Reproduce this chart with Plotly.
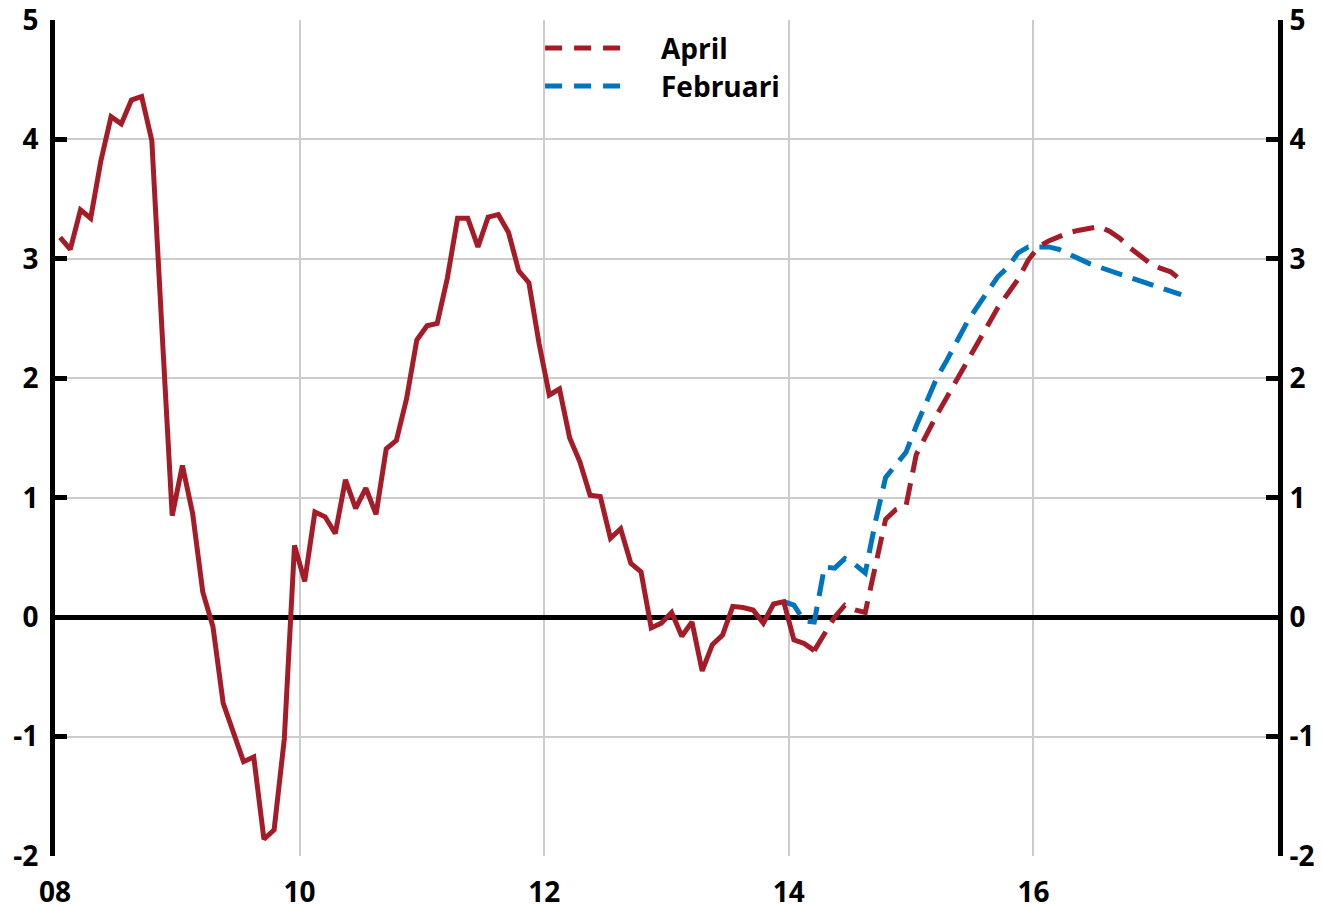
import plotly.graph_objects as go

# ---- data (monthly, starting Jan 2008) ----
start_year = 2008
actual = [3.18, 3.08, 3.41, 3.34, 3.82, 4.19, 4.13, 4.33, 4.36, 3.99, 2.40, 0.85,
          1.27, 0.87, 0.21, -0.08, -0.72, -0.95, -1.21, -1.17, -1.86, -1.78, -1.02, 0.60,
          0.30, 0.88, 0.84, 0.70, 1.15, 0.91, 1.08, 0.86, 1.41, 1.48, 1.83, 2.32,
          2.44, 2.46, 2.84, 3.34, 3.34, 3.10, 3.35, 3.37, 3.22, 2.90, 2.80, 2.29,
          1.86, 1.91, 1.50, 1.30, 1.02, 1.01, 0.66, 0.74, 0.45, 0.38, -0.09, -0.05,
          0.04, -0.16, -0.04, -0.45, -0.23, -0.15, 0.09, 0.08, 0.06, -0.05, 0.11, 0.13,
          -0.19, -0.22, -0.28]

april_start = 74  # month index of first April point
april = [-0.28, -0.13, 0.00, 0.10, 0.06, 0.04, 0.45, 0.82, 0.90, 0.93,
         1.36, 1.53, 1.69, 1.84, 1.99, 2.13, 2.29, 2.44, 2.59, 2.71, 2.83, 2.99,
         3.10, 3.15, 3.19, 3.22, 3.24, 3.26, 3.27, 3.23, 3.17, 3.09, 3.02, 2.96,
         2.92, 2.89, 2.82]

feb_start = 71
februari = [0.13, 0.10, -0.03, -0.04, 0.42, 0.41, 0.49, 0.44, 0.37, 0.80,
            1.17, 1.27, 1.38, 1.60, 1.81, 2.00, 2.15, 2.32, 2.47, 2.60, 2.73, 2.85,
            2.93, 3.05, 3.10, 3.10, 3.10, 3.08, 3.04, 2.99, 2.96, 2.93, 2.90, 2.87,
            2.84, 2.81, 2.78, 2.76, 2.73, 2.70]

x_tickvals = [2008, 2010, 2012, 2014, 2016]
x_ticktext = ["08", "10", "12", "14", "16"]
y_tickvals = [-2, -1, 0, 1, 2, 3, 4, 5]
y_ticktext = ["-2", "-1", "0", "1", "2", "3", "4", "5"]
legend_names = ["April", "Februari"]

def months(start, n):
    return [start_year + (start + i + 0.5) / 12 for i in range(n)]

RED = "#A51C28"
BLUE = "#0074BD"
FONT = "Open Sans"
DASH = "22px,11px"

fig = go.Figure()
fig.add_trace(go.Scatter(x=months(feb_start, len(februari)), y=februari, mode="lines",
                         name=legend_names[1], showlegend=False,
                         line=dict(color=BLUE, width=5, dash=DASH)))
fig.add_trace(go.Scatter(x=months(april_start, len(april)), y=april, mode="lines",
                         name=legend_names[0], showlegend=False,
                         line=dict(color=RED, width=5, dash=DASH)))
fig.add_trace(go.Scatter(x=months(0, len(actual)), y=actual, mode="lines",
                         showlegend=False, line=dict(color=RED, width=5)))
# invisible trace for right axis
fig.add_trace(go.Scatter(x=[2008], y=[0], yaxis="y2", mode="lines", showlegend=False,
                         line=dict(width=0), hoverinfo="skip"))

# manual legend (lines + text)
for name, color, yp in [(legend_names[0], RED, 0.9665), (legend_names[1], BLUE, 0.9211)]:
    fig.add_shape(type="line", xref="paper", yref="paper", x0=0.4007, x1=0.4661, y0=yp, y1=yp,
                  line=dict(color=color, width=5, dash="17px,12px"))
    fig.add_annotation(xref="paper", yref="paper", x=0.4939, y=yp, text=name, showarrow=False,
                       xanchor="left", yanchor="middle",
                       font=dict(family=FONT, size=28, color="black", weight="bold"))

axis_font = dict(family=FONT, size=28, color="black", weight="bold")

fig.update_layout(
    width=1322, height=909,
    margin=dict(l=55, r=44, t=20, b=53, autoexpand=False),
    paper_bgcolor="white", plot_bgcolor="white",
    font=dict(family=FONT, color="black"),
    showlegend=False,
    xaxis=dict(range=[2008, 2018], tickvals=x_tickvals, ticktext=x_ticktext,
               showgrid=True, gridcolor="#cccccc", gridwidth=2, ticks="",
               showline=False, zeroline=False, tickfont=axis_font, ticklabelstandoff=17,
               automargin=False, ticklabeloverflow="allow"),
    yaxis=dict(range=[-2, 5], tickvals=y_tickvals, ticktext=y_ticktext,
               showgrid=True, gridcolor="#cccccc", gridwidth=2,
               showline=True, linecolor="black", linewidth=5, ticks="inside", ticklen=12,
               tickwidth=5, tickcolor="black", zeroline=True, zerolinecolor="black",
               zerolinewidth=5, tickfont=axis_font, ticklabelstandoff=6, automargin=False,
               ticklabeloverflow="allow"),
    yaxis2=dict(range=[-2, 5], tickvals=y_tickvals, ticktext=y_ticktext,
                overlaying="y", side="right",
                showgrid=False, showline=True, linecolor="black", linewidth=5,
                ticks="inside", ticklen=12, tickwidth=5, tickcolor="black",
                zeroline=False, tickfont=axis_font, ticklabelstandoff=1, automargin=False,
                ticklabeloverflow="allow"),
)

fig.write_html("out.html", config={"displayModeBar": False},
               post_script="document.body.style.margin='0';document.body.style.overflow='hidden';")
